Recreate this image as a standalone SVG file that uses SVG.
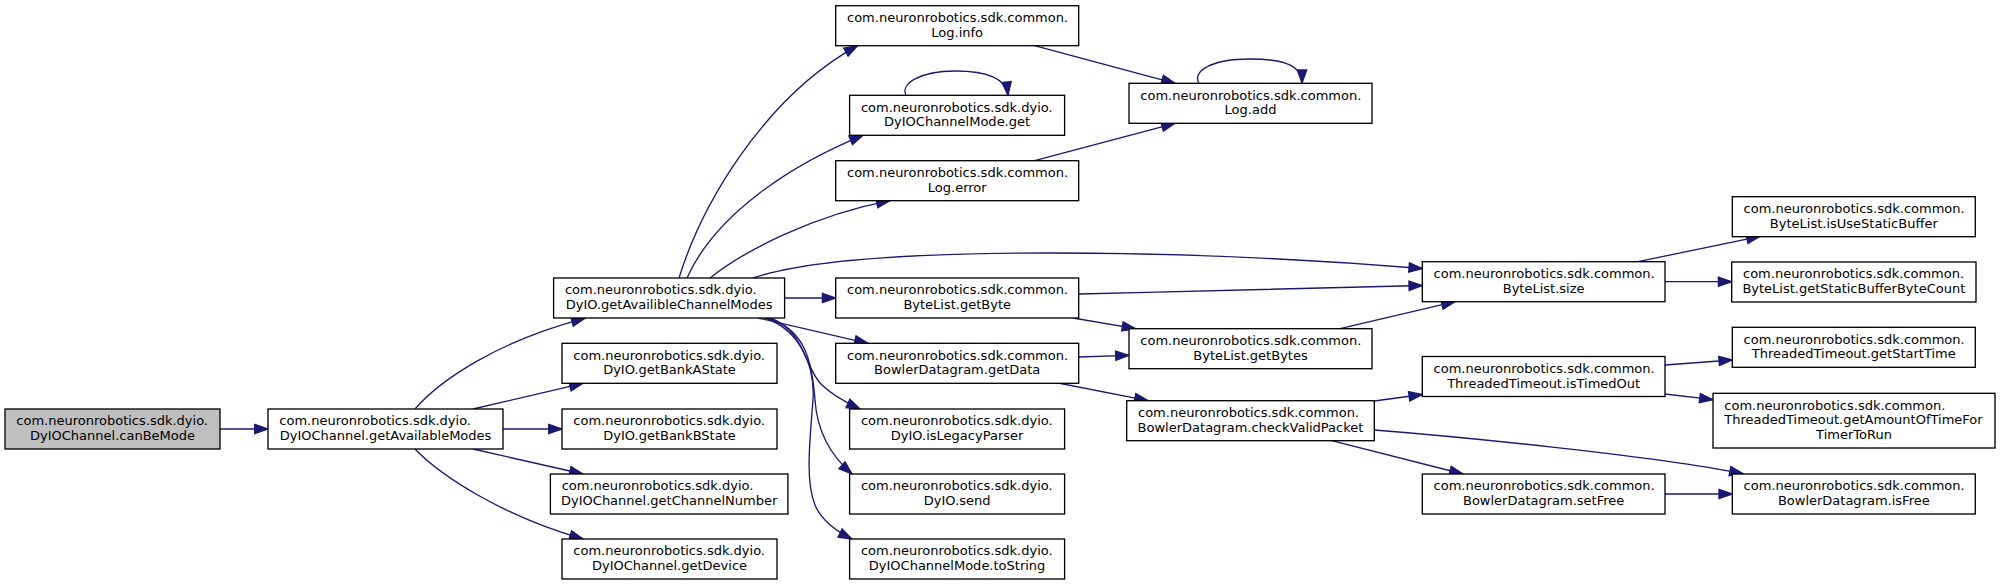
<svg xmlns="http://www.w3.org/2000/svg" width="2000" height="585" viewBox="0 0 2000 585">
<style>
.node rect{fill:#ffffff;stroke:#000000;stroke-width:1.33}
.node.root rect{fill:#bfbfbf}
text{font-family:"DejaVu Sans","Liberation Sans",sans-serif;font-size:13px;fill:#000000}
.l{text-anchor:start}
.c{text-anchor:middle}
#edges path{fill:none;stroke:#191970;stroke-width:1.33;marker-end:url(#ah)}
</style>
<defs>
<marker id="ah" viewBox="0 0 10 7" refX="10" refY="3.5" markerWidth="13.3" markerHeight="9.3" markerUnits="userSpaceOnUse" orient="auto" overflow="visible">
<path d="M0,0 L10,3.5 L0,7 Z" fill="#191970" stroke="#191970" stroke-width="1"/>
</marker>
</defs>
<rect x="0" y="0" width="2000" height="585" fill="#ffffff"/>
<g id="edges">
<path d="M220,429 L268,429"/>
<path d="M415,409 C440,380 500,340 585,318.3"/>
<path d="M473,409 L583,383.3"/>
<path d="M503,429 L562,429"/>
<path d="M473,449 L583,474"/>
<path d="M415,449 C440,475 500,515 583,539"/>
<path d="M679,278 C700,210 760,100 857.5,45.7"/>
<path d="M687,278 C715,215 790,165 863,135.3"/>
<path d="M710,278 C745,250 815,215 890,200.7"/>
<path d="M753,278 C800,262 900,253 1050,253 C1200,253 1330,261 1422.3,268.5"/>
<path d="M784.6,298 L835.7,298"/>
<path d="M758,318 L868,343.3"/>
<path d="M770,318 C805,330 805,370 822,385 C832,395 845,402 860,409"/>
<path d="M768,318 C805,330 812,360 815,400 C817,430 830,455 852,474"/>
<path d="M765,318 C800,330 815,365 813,400 C810,440 805,480 815,505 C822,522 838,532 852,539"/>
<path d="M1034.6,45.7 L1175,83.3"/>
<path d="M1199,83.3 C1192,72 1210,59 1250,59 C1285,59 1302,66 1302,83.3"/>
<path d="M906,95.3 C900,84 920,71 955,71 C985,71 1006,77 1008,95.3"/>
<path d="M1034.6,160.7 L1175,123.3"/>
<path d="M1078.6,294 C1200,291 1330,288 1422.3,285.5"/>
<path d="M1073,318 L1135.5,328.7"/>
<path d="M1078.6,357 L1129,355.3"/>
<path d="M1058,383 L1148,400.7"/>
<path d="M1340,328.7 L1455,301.7"/>
<path d="M1638,261.7 L1760,236.3"/>
<path d="M1665,281.7 L1731.7,281.7"/>
<path d="M1374.3,401 L1422.3,394.5"/>
<path d="M1374.3,430 C1450,436 1650,455 1743,473.7"/>
<path d="M1331.7,440.7 L1463,474"/>
<path d="M1665,365 L1732.3,360"/>
<path d="M1665,394 L1713,399.7"/>
<path d="M1665,494 L1732.3,494"/>
</g>
<g id="n1" class="node root"><rect x="5" y="409" width="215" height="40"/><text class="l" x="16.3" y="425.3">com.neuronrobotics.sdk.dyio.</text><text class="c" x="112.5" y="440">DyIOChannel.canBeMode</text></g>
<g id="n2" class="node"><rect x="268" y="409" width="235" height="40"/><text class="l" x="279.3" y="425.3">com.neuronrobotics.sdk.dyio.</text><text class="c" x="385.5" y="440">DyIOChannel.getAvailableModes</text></g>
<g id="n3" class="node"><rect x="553.6" y="278" width="231" height="40"/><text class="l" x="564.9" y="294.3">com.neuronrobotics.sdk.dyio.</text><text class="c" x="669.1" y="309">DyIO.getAvailibleChannelModes</text></g>
<g id="n4" class="node"><rect x="562" y="343.3" width="215" height="40"/><text class="l" x="573.3" y="359.6">com.neuronrobotics.sdk.dyio.</text><text class="c" x="669.5" y="374.3">DyIO.getBankAState</text></g>
<g id="n5" class="node"><rect x="562" y="409" width="215" height="40"/><text class="l" x="573.3" y="425.3">com.neuronrobotics.sdk.dyio.</text><text class="c" x="669.5" y="440">DyIO.getBankBState</text></g>
<g id="n6" class="node"><rect x="550.4" y="474" width="237.5" height="40"/><text class="l" x="561.7" y="490.3">com.neuronrobotics.sdk.dyio.</text><text class="c" x="669.15" y="505">DyIOChannel.getChannelNumber</text></g>
<g id="n7" class="node"><rect x="562" y="539" width="215" height="40"/><text class="l" x="573.3" y="555.3">com.neuronrobotics.sdk.dyio.</text><text class="c" x="669.5" y="570">DyIOChannel.getDevice</text></g>
<g id="n8" class="node"><rect x="835.7" y="5.7" width="243" height="40"/><text class="l" x="847" y="22">com.neuronrobotics.sdk.common.</text><text class="c" x="957.2" y="36.7">Log.info</text></g>
<g id="n9" class="node"><rect x="849.6" y="95.3" width="215" height="40"/><text class="l" x="860.9" y="111.6">com.neuronrobotics.sdk.dyio.</text><text class="c" x="957.1" y="126.3">DyIOChannelMode.get</text></g>
<g id="n10" class="node"><rect x="835.7" y="160.7" width="243" height="40"/><text class="l" x="847" y="177">com.neuronrobotics.sdk.common.</text><text class="c" x="957.2" y="191.7">Log.error</text></g>
<g id="n11" class="node"><rect x="835.7" y="278" width="243" height="40"/><text class="l" x="847" y="294.3">com.neuronrobotics.sdk.common.</text><text class="c" x="957.2" y="309">ByteList.getByte</text></g>
<g id="n12" class="node"><rect x="835.7" y="343.3" width="243" height="40"/><text class="l" x="847" y="359.6">com.neuronrobotics.sdk.common.</text><text class="c" x="957.2" y="374.3">BowlerDatagram.getData</text></g>
<g id="n13" class="node"><rect x="849.6" y="409" width="215" height="40"/><text class="l" x="860.9" y="425.3">com.neuronrobotics.sdk.dyio.</text><text class="c" x="957.1" y="440">DyIO.isLegacyParser</text></g>
<g id="n14" class="node"><rect x="849.6" y="474" width="215" height="40"/><text class="l" x="860.9" y="490.3">com.neuronrobotics.sdk.dyio.</text><text class="c" x="957.1" y="505">DyIO.send</text></g>
<g id="n15" class="node"><rect x="849.6" y="539" width="215" height="40"/><text class="l" x="860.9" y="555.3">com.neuronrobotics.sdk.dyio.</text><text class="c" x="957.1" y="570">DyIOChannelMode.toString</text></g>
<g id="n16" class="node"><rect x="1129" y="83.3" width="243" height="40"/><text class="l" x="1140.3" y="99.6">com.neuronrobotics.sdk.common.</text><text class="c" x="1250.5" y="114.3">Log.add</text></g>
<g id="n17" class="node"><rect x="1129" y="328.7" width="243" height="40"/><text class="l" x="1140.3" y="345">com.neuronrobotics.sdk.common.</text><text class="c" x="1250.5" y="359.7">ByteList.getBytes</text></g>
<g id="n18" class="node"><rect x="1126.7" y="400.7" width="247.6" height="40"/><text class="l" x="1138" y="417">com.neuronrobotics.sdk.common.</text><text class="c" x="1250.5" y="431.7">BowlerDatagram.checkValidPacket</text></g>
<g id="n19" class="node"><rect x="1422.3" y="261.7" width="242.7" height="40"/><text class="l" x="1433.6" y="278">com.neuronrobotics.sdk.common.</text><text class="c" x="1543.65" y="292.7">ByteList.size</text></g>
<g id="n20" class="node"><rect x="1422.3" y="356.5" width="242.7" height="40"/><text class="l" x="1433.6" y="372.8">com.neuronrobotics.sdk.common.</text><text class="c" x="1543.65" y="387.5">ThreadedTimeout.isTimedOut</text></g>
<g id="n21" class="node"><rect x="1422.3" y="474" width="242.7" height="40"/><text class="l" x="1433.6" y="490.3">com.neuronrobotics.sdk.common.</text><text class="c" x="1543.65" y="505">BowlerDatagram.setFree</text></g>
<g id="n22" class="node"><rect x="1732.3" y="196.7" width="243" height="40"/><text class="l" x="1743.6" y="213">com.neuronrobotics.sdk.common.</text><text class="c" x="1853.8" y="227.7">ByteList.isUseStaticBuffer</text></g>
<g id="n23" class="node"><rect x="1731.7" y="262" width="244.3" height="40"/><text class="l" x="1743" y="278.3">com.neuronrobotics.sdk.common.</text><text class="c" x="1853.85" y="293">ByteList.getStaticBufferByteCount</text></g>
<g id="n24" class="node"><rect x="1732.3" y="327.3" width="243" height="40"/><text class="l" x="1743.6" y="343.6">com.neuronrobotics.sdk.common.</text><text class="c" x="1853.8" y="358.3">ThreadedTimeout.getStartTime</text></g>
<g id="n25" class="node"><rect x="1713" y="393.3" width="282" height="54.7"/><text class="l" x="1724.3" y="409.6">com.neuronrobotics.sdk.common.</text><text class="l" x="1724.3" y="424.3">ThreadedTimeout.getAmountOfTimeFor</text><text class="c" x="1854" y="439">TimerToRun</text></g>
<g id="n26" class="node"><rect x="1732.3" y="474" width="243" height="40"/><text class="l" x="1743.6" y="490.3">com.neuronrobotics.sdk.common.</text><text class="c" x="1853.8" y="505">BowlerDatagram.isFree</text></g>
</svg>
